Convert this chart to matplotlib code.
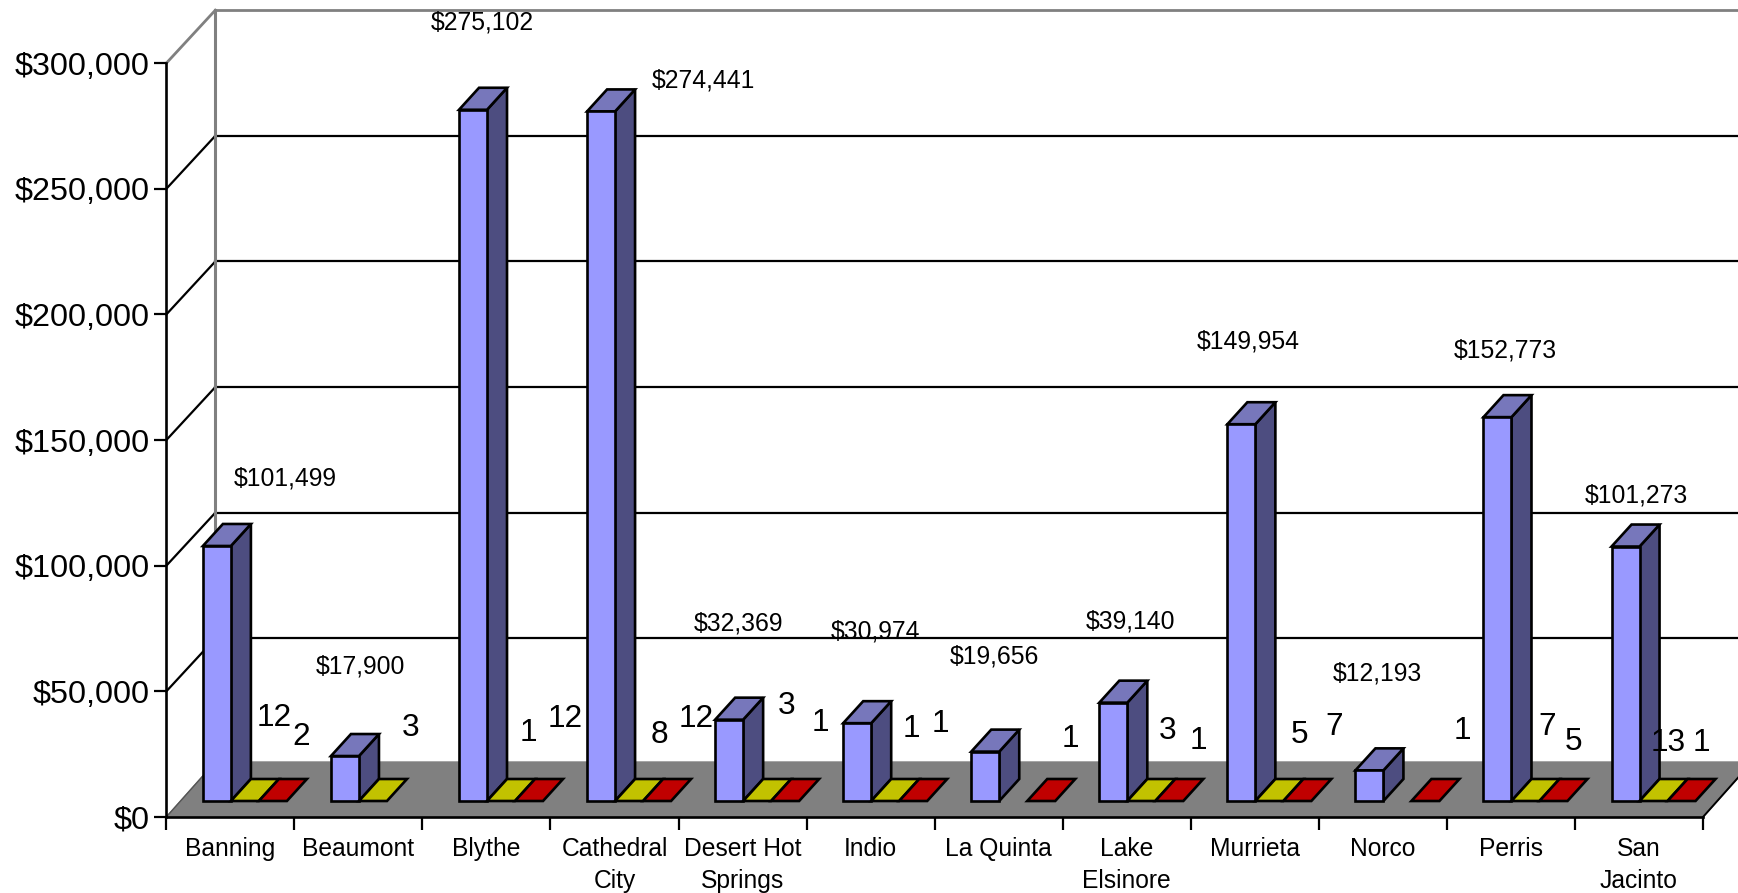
import matplotlib
matplotlib.use("Agg")
import matplotlib.pyplot as plt
from matplotlib.patches import Polygon
from matplotlib.ticker import FuncFormatter

plt.rcParams['font.family'] = ['Liberation Sans', 'DejaVu Sans']

# ---- data ----
categories = ["Banning", "Beaumont", "Blythe", "Cathedral\nCity", "Desert Hot\nSprings", "Indio",
              "La Quinta", "Lake\nElsinore", "Murrieta", "Norco", "Perris", "San\nJacinto"]
amounts = [101499, 17900, 275102, 274441, 32369, 30974, 19656, 39140, 149954, 12193, 152773, 101273]
count_a = [12, 3, 1, 8, 3, 1, None, 3, 5, None, 7, 13]
count_b = [2, None, 12, 12, 1, 1, 1, 1, 7, 1, 5, 1]
y_ticks = [0, 50000, 100000, 150000, 200000, 250000, 300000]

# ---- hand-placed label centres, in reference pixels ----
S = 1738 / 1568
amount_pos = [(257, 431.5), (325, 601), (435.5, 20.5), (634.5, 72.5), (666.5, 562.5), (789.5, 570),
              (897, 592), (1019.5, 561), (1126.5, 308.5), (1243, 608), (1358.5, 316), (1476, 447)]
a_pos = [(247, 647.5), (370, 656.5), (477, 661.5), (595, 663.5), (710, 636.5), (822, 657.5),
         None, (1053, 659.5), (1172, 663.5), None, (1396, 655.5), (1505, 670.5)]
b_pos = [(272, 664.5), None, (510, 648.5), (628, 648.5), (740, 652.5), (848, 653.5),
         (966, 666.5), (1081, 668.5), (1204, 655.5), (1319, 659.5), (1420, 669.5), (1535, 670.5)]

# ---- layout ----
W, H = 1738, 893
X0, X1, Y0, Y300 = 166.3, 1703.0, 817.0, 63.2
fig = plt.figure(figsize=(W / 100, H / 100), dpi=100, facecolor='white')
ax = fig.add_axes([X0 / W, (H - Y0) / H, (X1 - X0) / W, (Y0 - Y300) / H])
ax.set_xlim(0, 12)
ax.set_ylim(0, 300000)
ax.patch.set_alpha(0)

ux = (X1 - X0) / 12
uy = (Y0 - Y300) / 300000
def dx(p): return p / ux
def dy(p): return p / uy

WALL_DX, WALL_DY, FLOOR_DY = dx(49), dy(53), dy(55)
BAR_DX, BAR_DY = dx(20), dy(22)
BAR_W = dx(28.0)
BAR_X = dx(36.6)
BAR_Y = dy(16)

BLUE, SIDE, TOP = '#9999FF', '#4D4D80', '#7777BB'
YELLOW, RED = '#C2C200', '#C00000'
GREY = '#808080'

def poly(pts, fc, ec='black', lw=1.9, z=3):
    ax.add_patch(Polygon(pts, closed=True, facecolor=fc, edgecolor=ec, linewidth=lw,
                         joinstyle='miter', clip_on=False, zorder=z))

# walls and floor
for v in y_ticks[1:]:
    c = GREY if v == 300000 else 'black'
    lw = 2.0 if v == 300000 else 1.6
    ax.plot([0, WALL_DX], [v, v + WALL_DY], color=c, lw=lw, clip_on=False, zorder=1)
    ax.plot([WALL_DX, dx(W - X0)], [v + WALL_DY] * 2, color=c, lw=lw, clip_on=False, zorder=1)
ax.plot([WALL_DX, WALL_DX], [FLOOR_DY, 300000 + WALL_DY], color=GREY, lw=2.2, clip_on=False, zorder=1.5)
poly([(0, 0), (12, 0), (12 + WALL_DX, FLOOR_DY), (WALL_DX, FLOOR_DY)], GREY, ec=GREY, lw=1, z=2)
ax.plot([12, 12 + WALL_DX], [0, FLOOR_DY], color='black', lw=1.4, clip_on=False, zorder=2.1)
ax.plot([0, WALL_DX], [0, FLOOR_DY], color='#555555', lw=1.0, clip_on=False, zorder=2.1)

# bars
for i, v in enumerate(amounts):
    x = i + BAR_X
    x2 = x + BAR_W
    top = BAR_Y + v
    poly([(x2, BAR_Y), (x2 + BAR_DX, BAR_Y + BAR_DY), (x2 + BAR_DX, top + BAR_DY), (x2, top)], SIDE, z=3 + i * .01)
    poly([(x, top), (x2, top), (x2 + BAR_DX, top + BAR_DY), (x + BAR_DX, top + BAR_DY)], TOP, z=3 + i * .01)
    poly([(x, BAR_Y), (x2, BAR_Y), (x2, top), (x, top)], BLUE, z=3 + i * .01)
    for k, (series, col) in enumerate(((count_a, YELLOW), (count_b, RED))):
        if series[i] is None:
            continue
        l = x + BAR_W * (k + 1)
        r = l + BAR_W
        poly([(l, BAR_Y), (r, BAR_Y), (r + BAR_DX, BAR_Y + BAR_DY), (l + BAR_DX, BAR_Y + BAR_DY)],
             col, z=3 + i * .01 + .001 * (k + 1))

# axes furniture
for s in ('top', 'right'):
    ax.spines[s].set_visible(False)
for s in ('left', 'bottom'):
    ax.spines[s].set_linewidth(1.9)
    ax.spines[s].set_zorder(6)
ax.set_yticks(y_ticks)
ax.yaxis.set_major_formatter(FuncFormatter(lambda v, _: f"${v:,.0f}"))
ax.tick_params(axis='y', length=9, width=1.6, labelsize=23.3, pad=3.0)
ax.set_xticks(range(13))
ax.set_xticklabels([])
ax.tick_params(axis='x', which='major', length=9, width=1.6)
ax.set_xticks([i + .5 for i in range(12)], labels=categories, minor=True)
ax.tick_params(axis='x', which='minor', length=0, labelsize=17.7, pad=14.5)
for t in ax.get_xticklabels(minor=True):
    t.set_linespacing(1.42)

# labels
def label(pos, s, size):
    fig.text(pos[0] * S / W, 1 - pos[1] * S / H, s, fontsize=size, ha='center', va='center', zorder=10)

for p, v in zip(amount_pos, amounts):
    label(p, f"${v:,}", 17.8)
for poss, vals in ((a_pos, count_a), (b_pos, count_b)):
    for p, v in zip(poss, vals):
        if v is not None:
            label(p, str(v), 22.8)

fig.savefig("out.png", dpi=100)
